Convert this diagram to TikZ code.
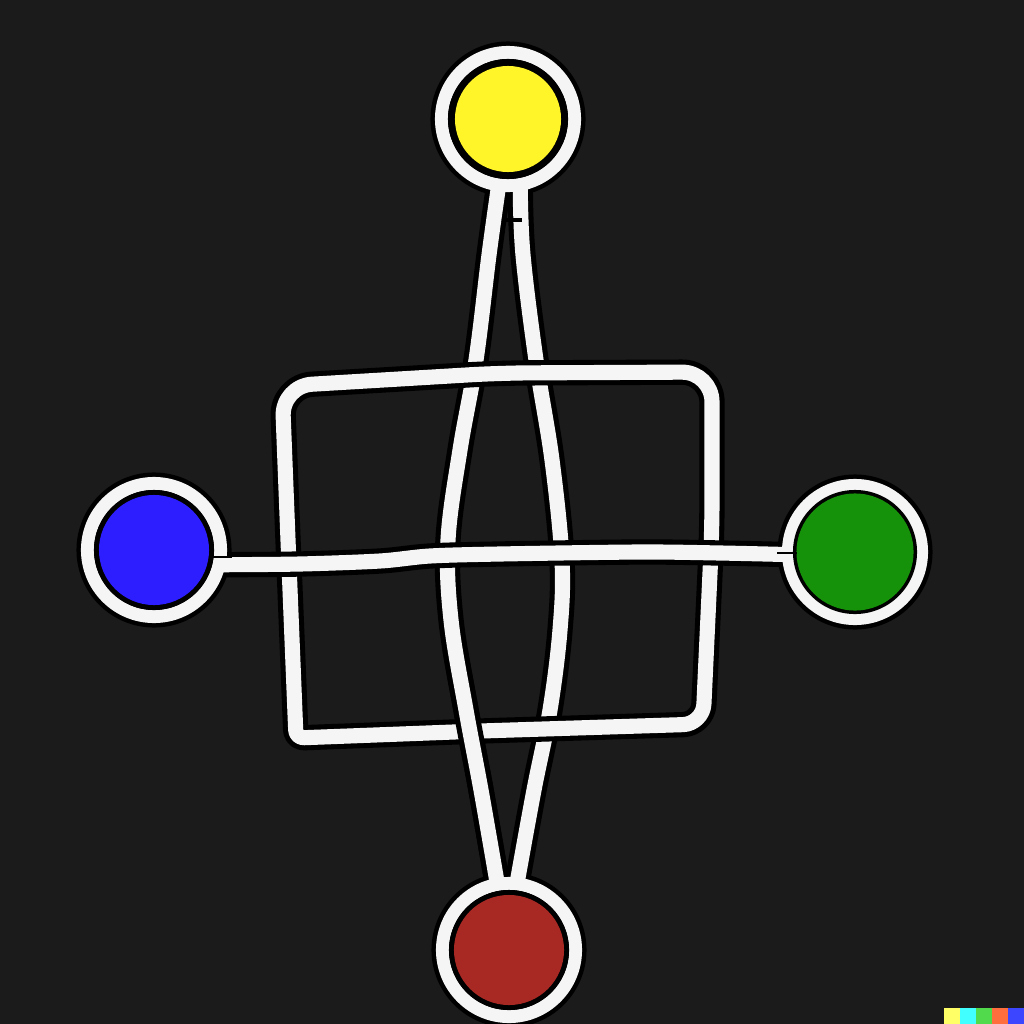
\documentclass[tikz,border=0pt]{standalone}
\definecolor{bg}{RGB}{27,27,27}
\definecolor{wireW}{RGB}{245,245,245}
\definecolor{cYel}{RGB}{255,245,40}
\definecolor{cBlue}{RGB}{45,30,255}
\definecolor{cGreen}{RGB}{22,145,10}
\definecolor{cRed}{RGB}{168,40,36}
\definecolor{wmY}{RGB}{255,255,102}
\definecolor{wmC}{RGB}{66,255,255}
\definecolor{wmG}{RGB}{81,218,76}
\definecolor{wmO}{RGB}{255,110,60}
\definecolor{wmB}{RGB}{60,70,255}
\begin{document}
\begin{tikzpicture}[x=0.01cm,y=-0.01cm,
  hub/.style={circle,minimum size=1.4cm,inner sep=0pt},
  wire/.style={draw=wireW,line width=4.3pt,line cap=round,line join=round,
    preaction={draw=black,line width=7.2pt,line cap=round,line join=round}},
  ring/.style={draw=wireW,line width=3.7pt},
  seam/.style={draw=black,line width=0.6pt}]
\useasboundingbox[fill=bg] (0,0) rectangle (1024,1024);
% hubs
\node[hub] (Y) at (508,119) {};
\node[hub] (B) at (154,550) {};
\node[hub] (G) at (855,552) {};
\node[hub] (R) at (509,950) {};
\foreach \n in {Y,B,G,R} \fill[black] (\n.center) circle (0.775cm);
% right strand (lowest)
\draw[wire] plot[smooth,tension=0.6] coordinates {(Y.280) (523,255) (536,360) (552,460) (562,560) (560,630) (550,710) (534,790) (R.83)};
% left strand
\draw[wire] plot[smooth,tension=0.6] coordinates {(Y.262) (489,255) (476,360) (460,450) (448,540) (451,620) (466,710) (481,790) (R.100)};
% square frame
\draw[wire] (288,540) [rounded corners=0.3cm] -- (282,386) -- (500,373) -- (712,372) -- (712,530)
  [rounded corners=0.2cm] -- (703,724) -- (480,731) [rounded corners=0.08cm] -- (296,738) -- cycle;
% left strand passes over the bottom edge
\begin{scope}
\clip (0,650) rectangle (1024,1024);
\draw[wire] plot[smooth,tension=0.6] coordinates {(Y.262) (489,255) (476,360) (460,450) (448,540) (451,620) (466,710) (481,790) (R.100)};
\end{scope}
% horizontal bar
\draw[wire] plot[smooth,tension=0.5] coordinates {(B.-12) (300,564) (380,561) (430,556) (500,554) (640,552) (720,553) (G.182)};
% rings and discs
\foreach \n in {Y,B,G,R} {
  \draw[ring] (\n.center) circle (0.665cm);
  \fill[black] (\n.center) circle (0.60cm);
}
\fill[black] (G.center) circle (0.62cm);
\fill[cYel] (Y.center) circle (0.53cm);
\fill[cBlue] (B.center) circle (0.55cm);
\fill[cGreen] (G.center) circle (0.585cm);
\fill[cRed] (R.center) circle (0.55cm);
% seams across the rings
\draw[seam] ([shift={(56,7)}]B.center) -- ([shift={(78,7)}]B.center);
\draw[seam] ([shift={(-78,1)}]G.center) -- ([shift={(-58,1)}]G.center);
\draw[draw=black,line width=1.4pt] (503,220) -- (522,220);
% watermark
\fill[wmY] (944,1008) rectangle (960,1024);
\fill[wmC] (960,1008) rectangle (976,1024);
\fill[wmG] (976,1008) rectangle (992,1024);
\fill[wmO] (992,1008) rectangle (1008,1024);
\fill[wmB] (1008,1008) rectangle (1024,1024);
\end{tikzpicture}
\end{document}
